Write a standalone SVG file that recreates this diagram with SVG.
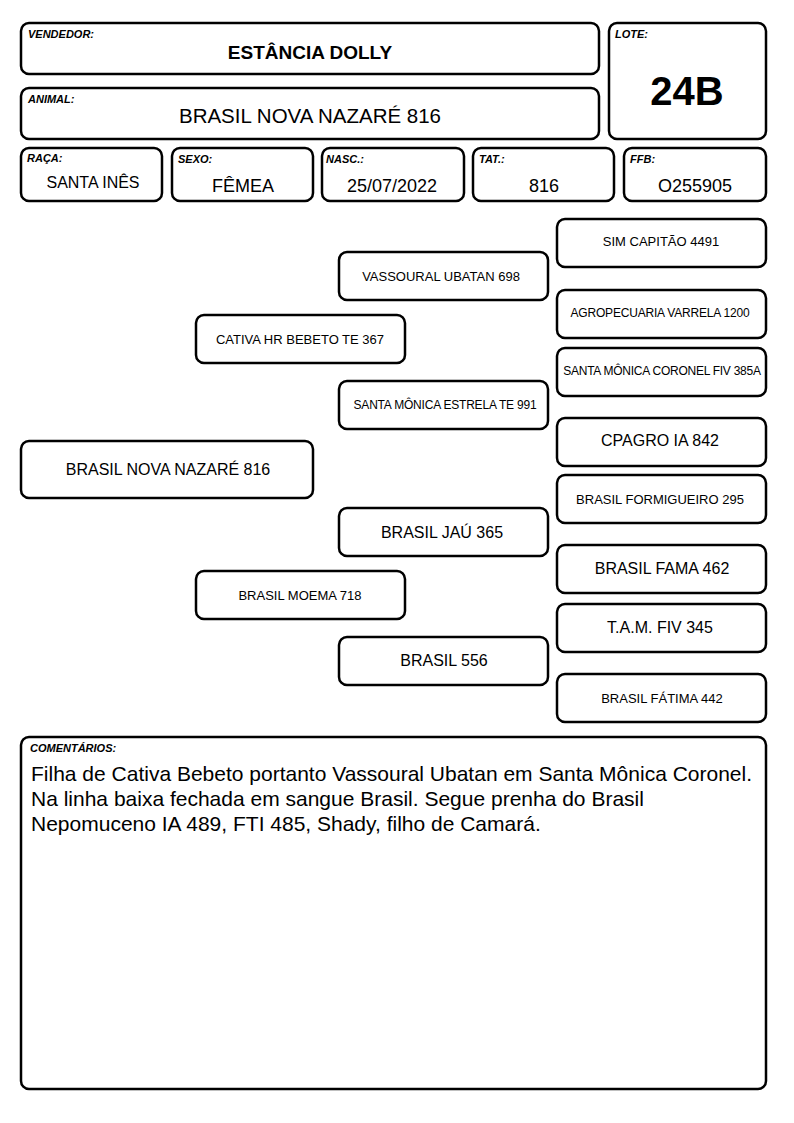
<svg xmlns="http://www.w3.org/2000/svg" width="794" height="1123" viewBox="0 0 794 1123">
<style>
.box{fill:#fff;stroke:#000;stroke-width:2.5}
.lbl{font-family:"Liberation Sans",Arial,sans-serif;font-size:11px;font-weight:bold;font-style:italic;fill:#000}
.t{font-family:"Liberation Sans",Arial,sans-serif;fill:#000;text-anchor:middle}
</style>
<rect width="794" height="1123" fill="#fff"/>
<g id="vendedor">
<rect class="box" x="21" y="23" width="578" height="51" rx="8"/>
<text class="lbl" x="28" y="38">VENDEDOR:</text>
<text class="t" x="310" y="59" font-size="19" font-weight="bold">ESTÂNCIA DOLLY</text>
</g>
<g id="lote">
<rect class="box" x="609" y="23" width="157" height="116" rx="8"/>
<text class="lbl" x="615" y="38">LOTE:</text>
<text class="t" x="687" y="105" font-size="40" font-weight="bold">24B</text>
</g>
<g id="animal">
<rect class="box" x="21" y="88" width="578" height="51" rx="8"/>
<text class="lbl" x="28" y="103">ANIMAL:</text>
<text class="t" x="310" y="123" font-size="20.5">BRASIL NOVA NAZARÉ 816</text>
</g>
<g id="raca">
<rect class="box" x="21" y="148" width="141" height="53" rx="8"/>
<text class="lbl" x="27" y="162">RAÇA:</text>
<text class="t" x="93" y="188" font-size="16">SANTA INÊS</text>
</g>
<g id="sexo">
<rect class="box" x="172" y="148" width="141" height="53" rx="8"/>
<text class="lbl" x="178" y="163">SEXO:</text>
<text class="t" x="243" y="192" font-size="18">FÊMEA</text>
</g>
<g id="nasc">
<rect class="box" x="322" y="148" width="142" height="53" rx="8"/>
<text class="lbl" x="326" y="163">NASC.:</text>
<text class="t" x="392" y="192" font-size="18">25/07/2022</text>
</g>
<g id="tat">
<rect class="box" x="473" y="148" width="141" height="53" rx="8"/>
<text class="lbl" x="479" y="163">TAT.:</text>
<text class="t" x="544" y="192" font-size="18">816</text>
</g>
<g id="ffb">
<rect class="box" x="624" y="148" width="142" height="53" rx="8"/>
<text class="lbl" x="630" y="163">FFB:</text>
<text class="t" x="695" y="192" font-size="18">O255905</text>
</g>
<g id="connectors"></g>
<g id="n-sim-capitao">
<rect class="box" x="557" y="219" width="209" height="48" rx="8"/>
<text class="t" x="661" y="246" font-size="13">SIM CAPITÃO 4491</text>
</g>
<g id="n-vassoural">
<rect class="box" x="339" y="252" width="209" height="48" rx="8"/>
<text class="t" x="441" y="281" font-size="13">VASSOURAL UBATAN 698</text>
</g>
<g id="n-agropecuaria">
<rect class="box" x="557" y="290" width="209" height="48" rx="8"/>
<text class="t" x="660" y="317" font-size="12" letter-spacing="-0.2">AGROPECUARIA VARRELA 1200</text>
</g>
<g id="n-cativa">
<rect class="box" x="196" y="315" width="209" height="48" rx="8"/>
<text class="t" x="300" y="344" font-size="13">CATIVA HR BEBETO TE 367</text>
</g>
<g id="n-sm-coronel">
<rect class="box" x="557" y="348" width="209" height="48" rx="8"/>
<text class="t" x="662" y="375" font-size="12" letter-spacing="-0.25">SANTA MÔNICA CORONEL FIV 385A</text>
</g>
<g id="n-sm-estrela">
<rect class="box" x="339" y="381" width="209" height="48" rx="8"/>
<text class="t" x="445" y="409" font-size="12" letter-spacing="-0.2">SANTA MÔNICA ESTRELA TE 991</text>
</g>
<g id="n-cpagro">
<rect class="box" x="557" y="418" width="209" height="48" rx="8"/>
<text class="t" x="660" y="446" font-size="16">CPAGRO IA 842</text>
</g>
<g id="n-main">
<rect class="box" x="21" y="441" width="292" height="57" rx="8"/>
<text class="t" x="168" y="475" font-size="16">BRASIL NOVA NAZARÉ 816</text>
</g>
<g id="n-formigueiro">
<rect class="box" x="557" y="475" width="209" height="48" rx="8"/>
<text class="t" x="660" y="504" font-size="13">BRASIL FORMIGUEIRO 295</text>
</g>
<g id="n-jau">
<rect class="box" x="339" y="508" width="209" height="48" rx="8"/>
<text class="t" x="442" y="538" font-size="16">BRASIL JAÚ 365</text>
</g>
<g id="n-fama">
<rect class="box" x="557" y="545" width="209" height="48" rx="8"/>
<text class="t" x="662" y="574" font-size="16">BRASIL FAMA 462</text>
</g>
<g id="n-moema">
<rect class="box" x="196" y="571" width="209" height="48" rx="8"/>
<text class="t" x="300" y="600" font-size="13">BRASIL MOEMA 718</text>
</g>
<g id="n-tam">
<rect class="box" x="557" y="604" width="209" height="48" rx="8"/>
<text class="t" x="660" y="633" font-size="16">T.A.M. FIV 345</text>
</g>
<g id="n-556">
<rect class="box" x="339" y="637" width="209" height="48" rx="8"/>
<text class="t" x="444" y="666" font-size="16">BRASIL 556</text>
</g>
<g id="n-fatima">
<rect class="box" x="557" y="674" width="209" height="48" rx="8"/>
<text class="t" x="662" y="703" font-size="13">BRASIL FÁTIMA 442</text>
</g>
<g id="comentarios">
<rect class="box" x="21" y="737" width="745" height="352" rx="8"/>
<text class="lbl" x="30" y="752">COMENTÁRIOS:</text>
<g font-family="'Liberation Sans',Arial,sans-serif" font-size="21" fill="#000">
<text x="31" y="781">Filha de Cativa Bebeto portanto Vassoural Ubatan em Santa Mônica Coronel.</text>
<text x="31" y="806">Na linha baixa fechada em sangue Brasil. Segue prenha do Brasil</text>
<text x="31" y="831">Nepomuceno IA 489, FTI 485, Shady, filho de Camará.</text>
</g>
</g>
</svg>
